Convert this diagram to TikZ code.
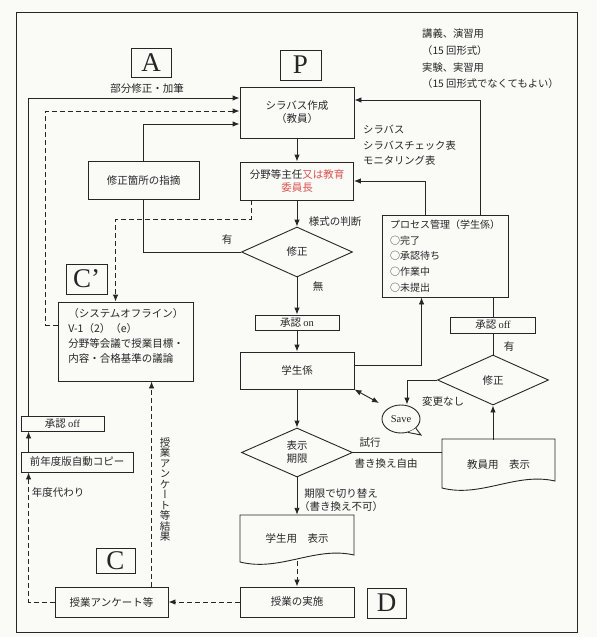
\documentclass[tikz,border=0pt]{standalone}
\usepackage{fontspec}
\usepackage{graphicx}
\setmainfont{Noto Sans CJK JP}
\newfontfamily\lat{Liberation Serif}
\newfontfamily\vfont[RawFeature=+vert]{Noto Sans CJK JP}
\usetikzlibrary{shapes.geometric,arrows.meta,calc}
\definecolor{ink}{HTML}{262626}
\definecolor{redtxt}{HTML}{D9534F}
\definecolor{paper}{HTML}{FAFAF7}
\begin{document}
\begin{tikzpicture}[x=1pt,y=-1pt,
  every node/.style={font=\fontsize{10.5}{13}\selectfont, text=ink},
  box/.style={draw=ink, line width=0.9pt, inner sep=0pt, align=center},
  lbl/.style={box, font=\lat\fontsize{27}{27}\selectfont},
  dia/.style={draw=ink, line width=0.9pt, diamond, inner sep=0pt, align=center},
  ln/.style={draw=ink, line width=0.9pt},
  arr/.style={ln, -{Latex[length=7pt,width=5.5pt]}},
  darr/.style={arr, dash pattern=on 5pt off 3pt},
  txt/.style={inner sep=0pt},
]
\path[use as bounding box, fill=paper] (0,0) rectangle (597,637);
\draw[ink, line width=0.9pt] (16,12) rectangle (577,632);

% label boxes
\node[lbl, minimum width=40pt, minimum height=29pt] (lA) at (151,62.5) {A};
\node[lbl, minimum width=41pt, minimum height=30pt] (lP) at (300.5,65) {P};
\node[lbl, minimum width=41pt, minimum height=30pt] (lCp) at (86.5,279) {C’};
\node[lbl, minimum width=39pt, minimum height=25pt] (lC) at (115.5,560.5) {C};
\node[lbl, minimum width=39pt, minimum height=30pt] (lD) at (386.5,603) {D};

% main column
\node[box, minimum width=114pt, minimum height=51pt] (syl) at (297,112.5) {シラバス作成\\（教員）};
\node[box, minimum width=113pt, minimum height=38pt] (bun) at (297,181) {分野等主任\textcolor{redtxt}{又は教育}\\\textcolor{redtxt}{委員長}};
\node[dia, minimum width=111pt, minimum height=50pt] (d1) at (297,252) {修正};
\node[box, minimum width=84pt, minimum height=15pt] (aon) at (297,322.5) {承認 {\lat on}};
\node[box, minimum width=114pt, minimum height=37pt] (gak) at (297,370.5) {学生係};
\node[dia, minimum width=111pt, minimum height=49pt] (d2) at (297,452.5) {表示\\期限};
\node[txt, minimum width=114pt, minimum height=48pt] (stu) at (297,539) {学生用　表示};
\draw[ln] (240,515) -- (354,515) -- (354,555) .. controls (315,546) and (280,572) .. (240,562) -- cycle;
\coordinate (stuB) at (297,561);
\node[box, minimum width=114pt, minimum height=30pt] (jis) at (297,602) {授業の実施};

% left column
\node[box, minimum width=111pt, minimum height=38pt] (shu) at (143.5,180) {修正箇所の指摘};
\node[box, minimum width=135pt, minimum height=79pt] (sys) at (125.5,341.5) {};
\node[txt, align=left, font=\fontsize{10.5}{14.7}\selectfont] (systxt) at (126,336) {（システムオフライン）\\V-1（2）（e）\\分野等会議で授業目標・\\内容・合格基準の議論};
\node[box, minimum width=83pt, minimum height=15pt] (offL) at (62.5,423.5) {承認 {\lat off}};
\node[box, minimum width=112pt, minimum height=20pt] (zen) at (77,462) {前年度版自動コピー};
\node[box, minimum width=113pt, minimum height=30pt] (ank) at (111.5,602) {授業アンケート等};

% right column
\node[box, minimum width=126pt, minimum height=82pt, align=left, font=\fontsize{10}{15.75}\selectfont] (pro) at (445,256) {プロセス管理（学生係）\\○完了\\○承認待ち\\○作業中\\○未提出};
\node[box, minimum width=85pt, minimum height=16pt] (offR) at (493,325) {承認 {\lat off}};
\node[dia, minimum width=111pt, minimum height=50pt] (d3) at (493,380) {修正};
\node[draw=ink, line width=0.9pt, ellipse, minimum width=38pt, minimum height=28pt, inner sep=0pt, font=\lat\fontsize{10.5}{12}\selectfont] (save) at (401,419) {Save};
\draw[ln, fill=paper] (save.-62) -- (421,435) -- (save.-32);
\node[txt, minimum width=113pt, minimum height=50pt] (kyo) at (498.5,465) {教員用　表示};
\draw[ln] (442,439) -- (555,439) -- (555,481) .. controls (516,472) and (481,498) .. (442,488) -- cycle;
\coordinate (sv) at (379,403);

% texts
\node[txt] (t1) at (147,89) {部分修正・加筆};
\node[txt, anchor=north west, align=left, font=\fontsize{10.3}{16.7}\selectfont] (t2) at (422,29) {講義、演習用\\（15 回形式）\\実験、実習用\\（15 回形式でなくてもよい）};
\node[txt, anchor=north west, align=left, font=\fontsize{10.3}{15.5}\selectfont] (t3) at (363,125) {シラバス\\シラバスチェック表\\モニタリング表};
\node[txt] (t4) at (335,222) {様式の判断};
\node[txt] (t5) at (318,287) {無};
\node[txt] (t6) at (227,240) {有};
\node[txt] (t7) at (509,347) {有};
\node[txt] (t8) at (443,402) {変更なし};
\node[txt] (t9) at (370,443) {試行};
\node[txt] (t10) at (386,464) {書き換え自由};
\node[txt, align=center] (t11) at (341,500) {期限で切り替え\\（書き換え不可）};
\node[txt] (t12) at (58,492) {年度代わり};
\node[txt, align=center, font=\vfont\fontsize{10.5}{10.5}\selectfont] (t13) at (165,489.5) {授\\業\\ア\\ン\\ケ\\ー\\ト\\等\\結\\果};

% connectors main column
\draw[arr] (syl) -- (bun);
\draw[arr] (bun) -- (d1);
\draw[arr] (d1) -- (aon);
\draw[arr] (aon) -- (gak);
\draw[arr] (gak) -- (d2);
\draw[arr] (d2) -- (stu);
\draw[darr] (stuB) -- (jis);
\draw[darr] (jis) -- (ank);

% left loops
\draw[darr] (ank.west) -| ($(zen.south west)+(8,0)$);
\draw[arr] ($(zen.north west)+(8,0)$) -- ($(offL.south west)+(8,0)$);
\draw[arr] ($(offL.north west)+(8,0)$) |- ($(syl.west)+(0,-14.5)$);
\draw[darr] ($(sys.west)+(0,-16.5)$) -- ++(-12,0) |- ($(syl.west)+(0,-1.5)$);
\draw[arr] (shu.north) |- ($(syl.west)+(0,11.5)$);
\draw[ln] (d1.west) -| (shu.south);
\draw[darr] ($(bun.south west)+(11,0)$) -- ++(0,19) -| ($(sys.north west)+(58,0)$);
\draw[darr] ($(ank.north west)+(97,0)$) -- ($(sys.south west)+(94,0)$);

% right loops
\draw[arr] ($(pro.north east)+(-28,0)$) |- ($(syl.east)+(0,-12.5)$);
\draw[arr] ($(pro.north west)+(44,0)$) |- (bun.east);
\draw[arr] ($(gak.east)+(0,-5.5)$) -| ($(pro.south west)+(40,0)$);
\draw[ln] (pro.south -| offR.north) -- (offR.north);
\draw[ln] (offR) -- (d3);
\draw[arr] (d3.west) -| ($(save.north)+(6,0)$);
\draw[arr] (kyo.north -| d3.south) -- (d3.south);
\draw[ln] (d2.east) -- (kyo.west |- d2.east);
\draw[ln, {Latex[length=7pt,width=5.5pt]}-{Latex[length=7pt,width=5.5pt]}] (gak.south east) -- (sv);
\end{tikzpicture}
\end{document}
